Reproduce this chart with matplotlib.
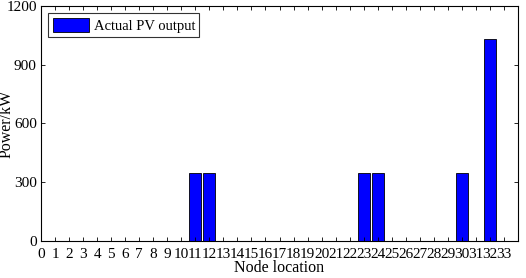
import matplotlib
matplotlib.use("Agg")
import matplotlib.pyplot as plt
import numpy as np

plt.rcParams['font.family'] = ['Liberation Serif', 'DejaVu Serif']

nodes = [11, 12, 23, 24, 30, 32]
power = [345, 345, 345, 345, 345, 1030]
xticks = list(range(0, 34))
yticks = [0, 300, 600, 900, 1200]

fig = plt.figure(figsize=(5.26, 2.78), dpi=100)
ax = fig.add_axes([41/526, 1-241/278, (518-41)/526, (241-6)/278])
ax.bar(nodes, power, width=0.85, color='#0000FF', edgecolor='black', linewidth=0.6,
       label='Actual PV output')
ax.set_xlim(0, 34)
ax.set_ylim(0, 1200)
ax.set_xticks(xticks)
ax.set_xticklabels([str(t) for t in xticks])
ax.set_yticks(yticks)
ax.tick_params(direction='in', top=True, right=True, labelsize=11, length=3, width=0.6)
ax.tick_params(axis='x', pad=5)
ax.tick_params(axis='y', pad=3)
for s in ax.spines.values():
    s.set_linewidth(0.8)
ax.set_xlabel('Node location', fontsize=11.5, labelpad=-1)
ax.set_ylabel('Power/kW', fontsize=11.5)
ax.yaxis.set_label_coords((15 - 41) / 477, 0.5)
leg = ax.legend(loc='upper left', fontsize=10.5, frameon=True, fancybox=False,
                edgecolor='black', borderpad=0.3, handlelength=2.5, handleheight=1.1,
                handletextpad=0.3, borderaxespad=0.5)
leg.get_frame().set_linewidth(0.8)
fig.savefig('out.png', dpi=100)
